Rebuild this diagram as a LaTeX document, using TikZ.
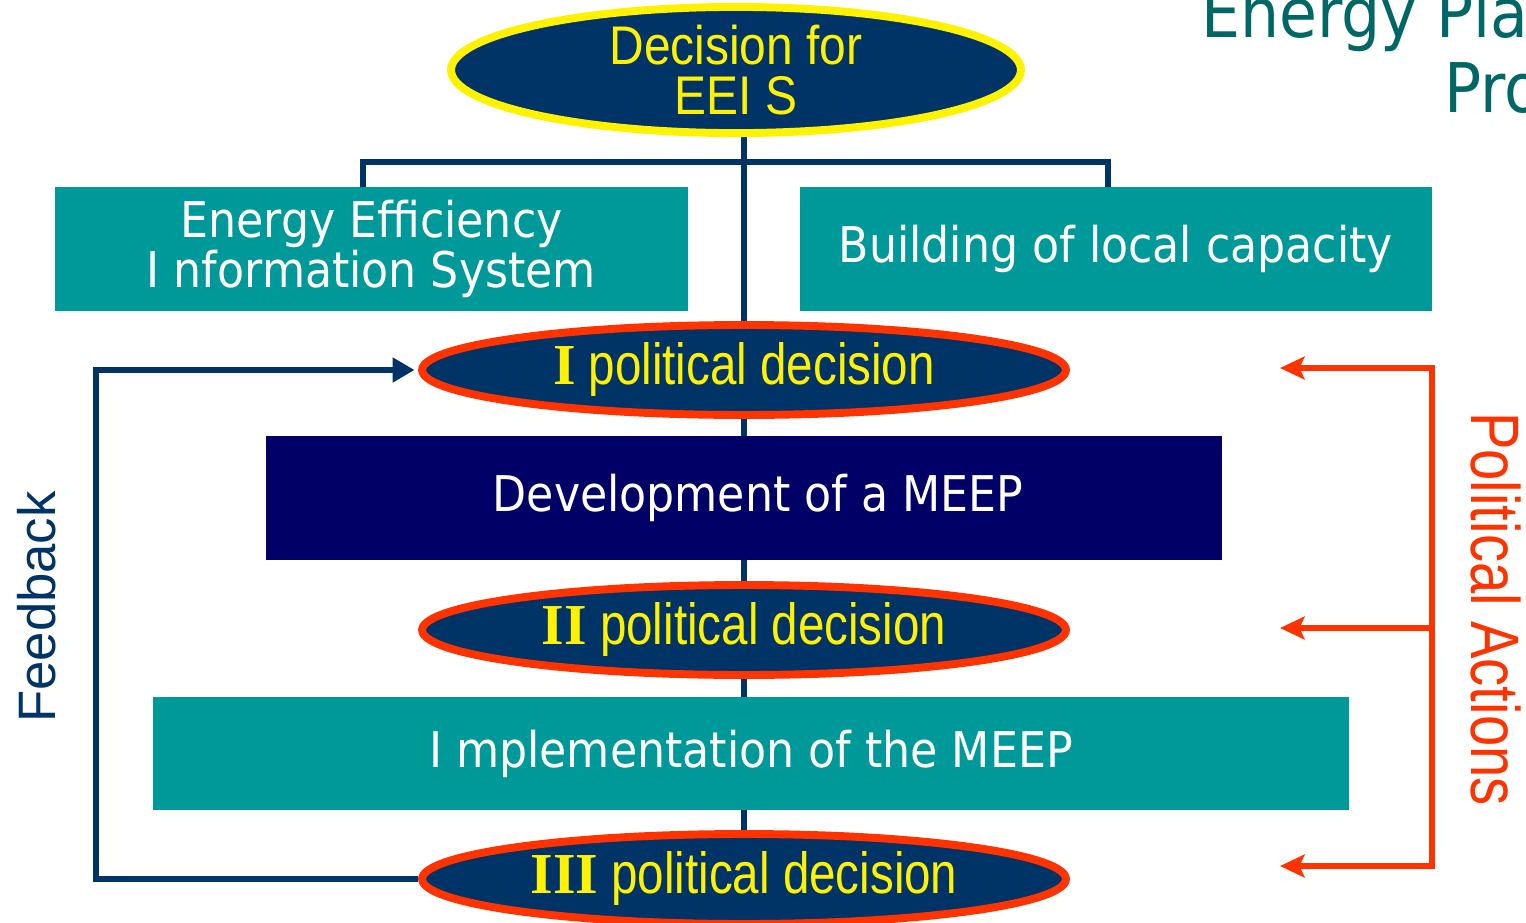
\documentclass[tikz,border=0pt]{standalone}
\usepackage{fontspec}
\usetikzlibrary{shapes.geometric,arrows.meta,positioning,calc,backgrounds}
\setmainfont{DejaVu Sans Condensed}
\newfontfamily\narrowfont[FakeStretch=0.82]{Liberation Sans}
\newfontfamily\topfont[FakeStretch=0.88]{Liberation Sans}
\newfontfamily\arialfont{Liberation Sans}
\newfontfamily\numfont{Liberation Serif}
\definecolor{darkblue}{HTML}{003366}
\definecolor{eeteal}{HTML}{009999}
\definecolor{meepnavy}{HTML}{000066}
\definecolor{pdred}{HTML}{FF3300}
\definecolor{titleteal}{HTML}{006666}
\newcommand{\pdtext}[1]{\makebox[0pt]{{\numfont\bfseries #1} political decision}}

\begin{document}
\begin{tikzpicture}[x=0.02cm,y=-0.02cm,
    topdec/.style={ellipse, draw=yellow, line width=4.5pt, fill=darkblue, text=yellow,
        minimum width=11.4cm, minimum height=2.28cm, inner sep=0pt, align=center,
        font=\topfont\fontsize{31}{28}\selectfont},
    decision/.style={ellipse, draw=pdred, line width=4.5pt, fill=darkblue, text=yellow,
        minimum width=12.88cm, minimum height=1.8cm, inner sep=0pt,
        font=\narrowfont\fontsize{33}{33}\selectfont},
    tealbox/.style={rectangle, fill=eeteal, text=white, inner sep=0pt, align=center,
        font=\fontsize{28}{27}\selectfont},
    link/.style={line width=3.6pt, draw=darkblue},
    actline/.style={line width=3.6pt, draw=pdred, line join=miter},
    title/.style={anchor=base west, text=titleteal, font=\fontsize{39}{39}\selectfont}]

    \useasboundingbox (0,0) rectangle (1526,923);
    \clip (0,0) rectangle (1526,923);

    % Title (cut by the page edge)
    \node[title] (title1) at (1195,37) {Energy Plan};
    \node[title] (title2) at (1438,112) {Pro};

    % Decision for EEIS
    \node[topdec] (eeis) at (736,70) {Decision for\\EEI S};

    % Information system and capacity
    \node[tealbox, minimum width=12.66cm, minimum height=2.48cm] (infosys) at (371.5,249) {Energy Efficiency\\I nformation System};
    \node[tealbox, minimum width=12.64cm, minimum height=2.48cm] (capacity) at (1116,249) {Building of local capacity};

    % Political decisions and MEEP
    \node[decision] (dec1) at (744,370) {\pdtext{I}};
    \node[rectangle, fill=meepnavy, text=white, inner sep=0pt, font=\fontsize{28}{27}\selectfont,
        minimum width=19.12cm, minimum height=2.48cm] (devel) at (744,498) {\makebox[0pt]{\hspace{0.56cm}Development of a MEEP}};
    \node[decision] (dec2) at (744,630) {\pdtext{II}};
    \node[tealbox, minimum width=23.92cm, minimum height=2.26cm] (impl) at (751,753.5) {I mplementation of the MEEP};
    \node[decision] (dec3) at (744,879) {\pdtext{III}};

    % Side labels
    \node[rotate=90, text=darkblue, font=\arialfont\fontsize{30}{30}\selectfont] (fblabel) at (37,607) {Feedback};
    \node[rotate=-90, text=pdred, font=\narrowfont\fontsize{39}{39}\selectfont] (palabel) at (1496,609) {Political Actions};

    % Connectors
    \coordinate (bar) at (744,162);
    \coordinate (fb) at (96,623);
    \coordinate (pa1) at (1432,368);
    \coordinate (pa2) at (1432,628);
    \coordinate (pa3) at (1432,866);
    \coordinate (tip1) at (1280,368);
    \coordinate (tip2) at (1280,628);
    \coordinate (tip3) at (1280,866);

    \begin{scope}[on background layer]
        \draw[link] (dec1.north |- eeis.south) -- (dec3.north);
        \draw[link] ([xshift=-4.8pt]infosys.north) |- (bar) -| ([xshift=-4.5pt]capacity.north);
        \draw[link, line join=miter, -{Triangle[length=12.5pt,width=13.5pt]}, shorten >=2pt]
            (dec3.west) -| (fb) |- (dec1.west);
    \end{scope}

    % Political actions
    \draw[actline, {Stealth[length=14pt,width=13pt,inset=3pt]}-{Stealth[length=14pt,width=13pt,inset=3pt]}]
        (tip1) -- (pa1) -- (pa3) -- (tip3);
    \draw[actline, -{Stealth[length=14pt,width=13pt,inset=3pt]}] (pa2) -- (tip2);
\end{tikzpicture}
\end{document}
